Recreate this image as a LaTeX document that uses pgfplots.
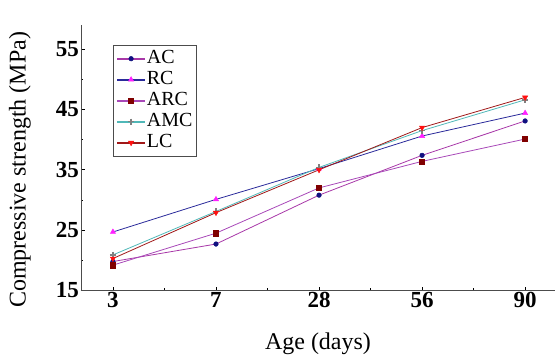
\documentclass[border=0pt]{standalone}
\usepackage{fontspec}
\setmainfont{Liberation Serif}
\usepackage{pgfplots}
\pgfplotsset{compat=1.18}
\definecolor{acline}{HTML}{A838A8}
\definecolor{acmark}{HTML}{101080}
\definecolor{rcline}{HTML}{2A2A9A}
\definecolor{rcmark}{HTML}{FF20FF}
\definecolor{arcline}{HTML}{A848B8}
\definecolor{arcmark}{HTML}{800000}
\definecolor{amcline}{HTML}{50B8B8}
\definecolor{amcmark}{HTML}{808080}
\definecolor{lcline}{HTML}{A01818}
\definecolor{lcmark}{HTML}{FF1010}
\begin{document}
\begin{tikzpicture}
\begin{axis}[
  scale only axis,
  width=474pt, height=265.5pt,
  xmin=-0.31, xmax=4.29,
  ymin=15, ymax=59,
  axis x line*=bottom,
  axis y line*=left,
  axis line style={black!70, line width=0.6pt},
  xtick={0,1,2,3,4},
  xticklabels={3,7,28,56,90},
  ytick={15,25,35,45,55},
  minor x tick num=1,
  minor y tick num=1,
  tick align=inside,
  major tick length=4pt,
  minor tick length=2.5pt,
  tick style={black, line width=0.8pt},
  /pgf/number format/assume math mode=true,
  ticklabel style={font=\bfseries\fontsize{23}{23}\selectfont},
  xticklabel style={inner sep=1pt, yshift=-1pt},
  yticklabel style={inner sep=1pt, xshift=-1pt},
  xlabel={Age (days)},
  ylabel={Compressive strength (MPa)},
  label style={font=\fontsize{24}{24}\selectfont},
  xlabel style={at={(rel axis cs:0.5,-0.2)}, anchor=center},
  ylabel style={at={(rel axis cs:-0.129,0.454)}, anchor=center, rotate=0},
  legend cell align=left,
  legend style={at={(rel axis cs:0.0675,0.925)}, anchor=north west,
    draw=black!70, line width=0.6pt, font=\fontsize{20}{20}\selectfont,
    inner xsep=3pt, inner ysep=3pt, row sep=0pt,
    nodes={inner xsep=1pt, inner ysep=1.5pt, text height=14pt, text depth=4pt}},
  legend image code/.code={\draw[line width=1.6pt, mark repeat=2,mark phase=2] plot coordinates {(0pt,0pt)(14pt,0pt)(28pt,0pt)};},
  clip=false,
]
\coordinate (O) at (rel axis cs:0,0);
\addplot[color=acline, line width=0.8pt, mark=*, mark size=2.3pt, mark options={fill=acmark, draw=acmark, line width=0.5pt}]
  coordinates {(0,19.8) (1,22.7) (2,30.8) (3,37.4) (4,43.1)};
\addlegendentry{AC}
\addplot[color=rcline, line width=0.8pt, mark=triangle*, mark size=3pt, mark options={fill=rcmark, draw=rcmark, line width=0.5pt}]
  coordinates {(0,24.7) (1,30.1) (2,35.2) (3,40.6) (4,44.4)};
\addlegendentry{RC}
\addplot[color=arcline, line width=0.8pt, mark=square*, mark size=2.6pt, mark options={fill=arcmark, draw=arcmark, line width=0.5pt}]
  coordinates {(0,19.2) (1,24.5) (2,32.0) (3,36.4) (4,40.1)};
\addlegendentry{ARC}
\addplot[color=amcline, line width=0.8pt, mark=+, mark size=3pt, mark options={draw=amcmark, line width=1.4pt}]
  coordinates {(0,20.9) (1,28.1) (2,35.4) (3,41.5) (4,46.6)};
\addlegendentry{AMC}
\addplot[color=lcline, line width=0.8pt, mark=triangle*, mark size=3pt, mark options={fill=lcmark, draw=lcmark, rotate=180, line width=0.5pt}]
  coordinates {(0,20.3) (1,27.9) (2,35.0) (3,42.0) (4,47.0)};
\addlegendentry{LC}
\end{axis}
\pgfresetboundingbox
\path ([xshift=-81pt,yshift=-65.5pt]O) rectangle ++(556pt,356pt);
\end{tikzpicture}
\end{document}
